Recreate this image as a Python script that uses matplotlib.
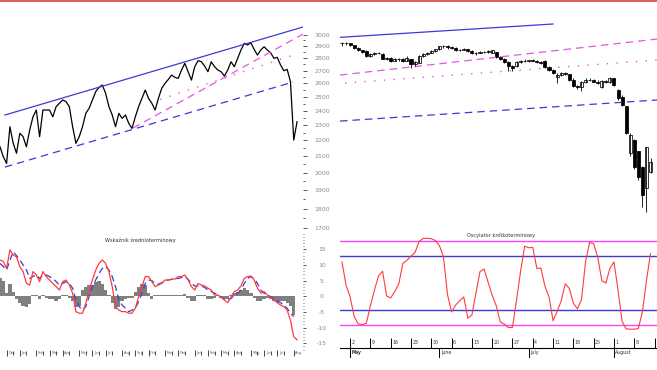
import matplotlib
matplotlib.use('Agg')
import matplotlib.pyplot as plt
import matplotlib.transforms as mtransforms
from matplotlib.patches import Rectangle
from matplotlib.ticker import NullFormatter
import pandas as pd

# ---------------- DATA ----------------
# Left chart (weekly closes)
left_close = [2159, 2097, 2056, 2290, 2181, 2118, 2246, 2224, 2159, 2268,
              2358, 2405, 2224, 2405, 2405, 2405, 2358, 2429, 2453, 2477,
              2465, 2429, 2290, 2181, 2224, 2290, 2382, 2417, 2477, 2538,
              2570, 2588, 2526, 2429, 2370, 2290, 2382, 2347, 2370, 2313,
              2279, 2358, 2429, 2489, 2550, 2489, 2453, 2405, 2489, 2563,
              2601, 2631, 2665, 2647, 2639, 2705, 2758, 2691, 2626, 2731,
              2780, 2771, 2737, 2691, 2771, 2731, 2705, 2691, 2657, 2705,
              2771, 2731, 2799, 2868, 2925, 2911, 2930, 2874, 2826, 2868,
              2896, 2868, 2845, 2799, 2807, 2745, 2699, 2710, 2613, 2202, 2324]

# Medium-term indicator (left bottom)
mid_red = [11.6, 11.1, 8.9, 14.8, 13.2, 12.6, 9.5, 7.9, 4.1, 3.6,
           7.9, 6.8, 4.7, 7.9, 6.3, 5.2, 4.1, 3.1, 2.0, 4.7,
           5.2, 3.6, 1.0, -4.9, -5.4, -5.4, -2.2, 2.0, 5.2, 8.4,
           10.5, 11.6, 10.5, 7.9, 3.1, -3.3, -4.4, -4.9, -4.9, -5.4,
           -5.4, -3.8, -0.1, 3.1, 6.3, 6.3, 4.7, 3.1, 3.6, 4.1,
           5.2, 5.2, 5.5, 5.5, 6.3, 6.3, 6.8, 5.2, 3.1, 2.0,
           4.1, 3.6, 3.3, 2.6, 2.0, 0.4, 0.4, -0.3, -1.2, -2.0,
           -0.1, 1.5, 2.0, 3.3, 5.7, 6.3, 6.5, 5.2, 2.6, 1.0,
           1.5, 0.4, -0.3, -1.2, -2.0, -2.8, -3.3, -4.4, -7.6, -12.9, -13.9]
mid_blue = [10.5, 9.5, 8.4, 11.5, 14.2, 13.0, 11.6, 10.0, 8.4, 5.7,
            6.3, 6.8, 5.7, 6.8, 6.8, 6.3, 5.7, 4.7, 3.6, 4.1,
            4.7, 4.1, 2.6, -1.2, -3.3, -4.4, -3.3, -0.1, 3.1, 5.2,
            7.3, 8.9, 9.5, 8.4, 6.3, 3.1, -1.2, -2.8, -3.8, -4.9,
            -4.4, -3.8, -1.7, 1.0, 4.1, 5.2, 5.0, 4.1, 3.9, 4.3,
            5.0, 5.2, 5.4, 5.6, 5.7, 6.0, 6.3, 5.4, 4.1, 3.3,
            3.3, 3.3, 2.8, 2.0, 1.5, 1.0, 0.4, -0.3, -1.0, -1.2,
            -0.7, 0.4, 1.0, 2.0, 4.1, 5.7, 6.3, 5.7, 4.1, 2.0,
            1.0, 0.4, -0.1, -0.7, -1.4, -2.0, -2.8, -3.8, -5.4, -6.5]
mid_hist = [6, 5, 1, 4, 1.5, -1, -2, -3, -3.5, -2.5,
            0.5, 0.5, -1, 0.5, -0.5, -1, -1, -1.5, -1, 0.5,
            0.5, -0.5, -1.5, -3.5, -3, 2, 3, 3.5, 3.5, 4.5,
            5, 4, 2, 0.5, -2, -4, -3.5, -1.5, -1, -0.5,
            -0.5, 1.5, 3, 4, 3.5, 1, -1, 0.5, 0.5, 0.5,
            0.5, 0.5, 0.5, 0.5, 0.5, 0.5, 0.8, -0.5, -1.5, -1.5,
            0.5, 0.5, 0.5, -1, -1, -0.5, 0.5, -0.5, -1, -1,
            0.5, 1, 1.5, 2, 2.5, 2, 1, -0.5, -1.5, -1.5,
            -1, -0.5, -1, -1.5, -2, -1.5, -1.5, -2, -3, -6]

# Left channel lines: (x0, y0, x1, y1)
left_top_line = (1.5, 2370, 91.8, 3069)
left_low_line = (1.5, 2034, 88.8, 2611)
left_mag_dash = (40.3, 2281, 91.8, 3006)
left_mag_dot = (48.5, 2481, 88.8, 2826)

price_ticks = [3000, 2900, 2800, 2700, 2600, 2500, 2400, 2300, 2200, 2100,
               2000, 1900, 1800, 1700]
price_minor = [2950, 2850, 2750, 2650, 2550, 2450, 2350, 2250, 2150, 2050,
               1950, 1850, 1750]
ind_ticks = [15, 10, 5, 0, -5, -10, -15]

# Right chart: daily candles from 2011-04-28 to 2011-08-12
c_open = [2932, 2930, 2925, 2912, 2885, 2865, 2860, 2815, 2838, 2842,
          2835, 2795, 2805, 2780, 2795, 2790, 2778, 2790, 2750, 2762,
          2818, 2832, 2843, 2860, 2876, 2900, 2905, 2890, 2885, 2868,
          2872, 2878, 2860, 2840, 2845, 2852, 2848, 2845, 2850, 2810,
          2795, 2770, 2740, 2735, 2770, 2780, 2775, 2782, 2778, 2770,
          2780, 2730, 2705, 2650, 2665, 2685, 2670, 2630, 2580, 2575,
          2610, 2630, 2625, 2615, 2570, 2620, 2610, 2640, 2550, 2500,
          2430, 2120, 2200, 2130, 2035, 1913, 2005]
c_high = [2936, 2934, 2928, 2915, 2890, 2870, 2868, 2845, 2850, 2850,
          2840, 2810, 2810, 2800, 2805, 2800, 2815, 2795, 2775, 2825,
          2840, 2848, 2865, 2880, 2905, 2915, 2910, 2900, 2890, 2880,
          2885, 2880, 2865, 2850, 2860, 2858, 2865, 2870, 2855, 2815,
          2800, 2775, 2745, 2775, 2785, 2790, 2785, 2790, 2785, 2775,
          2785, 2735, 2710, 2680, 2690, 2690, 2675, 2640, 2590, 2620,
          2640, 2640, 2635, 2625, 2630, 2630, 2650, 2645, 2555, 2510,
          2435, 2250, 2210, 2135, 2040, 2160, 2090]
c_low = [2905, 2910, 2900, 2880, 2860, 2840, 2810, 2810, 2830, 2835,
         2790, 2785, 2770, 2775, 2780, 2770, 2775, 2720, 2740, 2758,
         2812, 2825, 2840, 2855, 2870, 2885, 2880, 2875, 2860, 2860,
         2865, 2855, 2835, 2830, 2840, 2840, 2845, 2840, 2805, 2785,
         2760, 2700, 2700, 2730, 2765, 2770, 2770, 2775, 2765, 2755,
         2720, 2700, 2670, 2600, 2660, 2665, 2620, 2570, 2560, 2545,
         2600, 2620, 2610, 2595, 2565, 2600, 2600, 2580, 2480, 2430,
         2240, 2100, 2020, 1960, 1810, 1785, 2000]
c_close = [2930, 2925, 2915, 2885, 2865, 2850, 2815, 2838, 2842, 2845,
           2795, 2805, 2780, 2795, 2790, 2778, 2805, 2750, 2770, 2818,
           2832, 2843, 2860, 2876, 2900, 2905, 2890, 2885, 2868, 2872,
           2878, 2860, 2840, 2845, 2852, 2848, 2860, 2865, 2810, 2795,
           2770, 2740, 2720, 2770, 2780, 2775, 2782, 2778, 2770, 2762,
           2730, 2705, 2680, 2665, 2685, 2670, 2630, 2580, 2575, 2610,
           2630, 2625, 2615, 2605, 2620, 2610, 2640, 2590, 2490, 2440,
           2250, 2235, 2035, 1976, 1874, 2156, 2065]

# Short-term oscillator (right bottom)
osc = [11.0, 3.5, -0.1, -6.5, -8.8, -9.0, -8.6, -3.0, 2.0, 6.5,
       8.0, 0.1, -0.5, 1.5, 4.0, 10.5, 11.5, 12.8, 14.0, 17.5,
       18.5, 18.5, 18.4, 17.8, 16.2, 12.6, 0.5, -5.0, -2.8, -1.4,
       -0.2, -7.0, -6.0, 1.0, 7.9, 8.7, 4.5, 0.3, -3.0, -8.2,
       -8.9, -10.0, -9.9, -1.2, 8.0, 16.0, 15.5, 15.6, 8.9, 9.0,
       3.2, -0.2, -7.8, -4.8, -1.5, 4.0, 2.5, -2.2, -4.0, -1.0,
       11.0, 17.2, 16.8, 12.5, 5.0, 4.2, 8.9, 11.0, 2.0, -8.0,
       -10.4, -10.5, -10.5, -10.3, -5.0, 5.0, 13.6]
osc_levels_mag = [17.6, -9.3]
osc_levels_blue = [12.9, -4.5]

# Right channel lines
right_top_line = (-0.49, 2977, 52.0, 3096)
right_mag_dash = (-0.49, 2665, 77.6, 2962)
right_mag_dot = (0.74, 2603, 77.6, 2785)
right_low_line = (-0.49, 2328, 77.6, 2477)

# ---------------- FIGURE ----------------
W, H = 657, 370
fig = plt.figure(figsize=(W / 100, H / 100), dpi=100)
plt.rcParams['font.family'] = ['DejaVu Sans']

BLUE = '#3b3bd6'
MAG = '#e455e4'
MAG2 = '#ff40ff'
RED = '#ff3b3b'
GRAY_TXT = '#8a8a8a'


def ax_px(x0, y0, x1, y1):
    return fig.add_axes([x0 / W, 1 - y1 / H, (x1 - x0) / W, (y1 - y0) / H])


def seg(ax, line, **kw):
    x0, y0, x1, y1 = line
    ax.plot([x0, x1], [y0, y1], **kw)


# red strip at the very top
fig.add_artist(Rectangle((0, 1 - 2 / H), 1, 2 / H, transform=fig.transFigure,
                         color='#d8605c', lw=0))

YLIM_P = (1681, 3151)

# ---- left top: price line with channel ----
ax_tl = ax_px(0, 18, 303, 232)
ax_tl.set_yscale('log')
ax_tl.set_ylim(*YLIM_P)
ax_tl.set_xlim(0, 91.8)
ax_tl.plot(range(len(left_close)), left_close, color='black', lw=0.9)
seg(ax_tl, left_top_line, color=BLUE, lw=0.9)
seg(ax_tl, left_low_line, color=BLUE, lw=0.9, dashes=(6, 4))
seg(ax_tl, left_mag_dash, color=MAG, lw=0.9, dashes=(6, 4))
seg(ax_tl, left_mag_dot, color=MAG, lw=1.0, dashes=(1, 6))
for s in ax_tl.spines.values():
    s.set_visible(False)
ax_tl.set_xticks([])
ax_tl.yaxis.tick_right()
ax_tl.set_yticks(price_ticks, [str(t) for t in price_ticks])
ax_tl.set_yticks(price_minor, minor=True)
ax_tl.yaxis.set_minor_formatter(NullFormatter())
ax_tl.tick_params(axis='y', which='major', length=3, width=0.7, color='#555555',
                  labelsize=4.5, labelcolor=GRAY_TXT, pad=10.8)
ax_tl.tick_params(axis='y', which='minor', length=1.2, width=0.7, color='#555555')
for lb in ax_tl.get_yticklabels():
    lb.set_horizontalalignment('center')

# ---- left bottom: medium-term indicator ----
ax_bl = ax_px(0, 232, 303, 353)
ax_bl.set_xlim(0, 91.8)
ax_bl.set_ylim((296.3 - 353) / 3.133, (296.3 - 232) / 3.133)
ax_bl.bar(range(len(mid_hist)), mid_hist, width=1.0, color='#7f7f7f', lw=0)
ax_bl.plot(range(len(mid_blue)), mid_blue, color=BLUE, lw=0.9, dashes=(5, 3))
ax_bl.plot(range(len(mid_red)), mid_red, color=RED, lw=0.9)
for s in ax_bl.spines.values():
    s.set_visible(False)
ax_bl.yaxis.tick_right()
ax_bl.set_yticks(ind_ticks, [str(t) for t in ind_ticks])
ax_bl.set_yticks(list(range(-17, 21)), minor=True)
ax_bl.yaxis.set_minor_formatter(NullFormatter())
ax_bl.tick_params(axis='y', which='major', length=2, width=0.7, color='#555555',
                  labelsize=4.5, labelcolor=GRAY_TXT, pad=11.5)
ax_bl.tick_params(axis='y', which='minor', length=1.0, width=0.6, color='#555555')
for lb in ax_bl.get_yticklabels():
    lb.set_horizontalalignment('center')
ax_bl.text(42.4, 18.0, 'Wskaźnik średnioterminowy', fontsize=3.6, ha='center',
           va='center', color='#333333')
# weekly dates for left x axis: ticks at month starts and mid-months
left_dates = pd.date_range(end='2011-08-12', periods=len(left_close), freq='W-FRI')
month_idx = [i for i in range(1, len(left_dates))
             if left_dates[i].month != left_dates[i - 1].month]
mid_idx = [i for i in range(1, len(left_dates))
           if left_dates[i].day >= 15 and left_dates[i - 1].day < 15]
ax_bl.set_xticks(month_idx)
ax_bl.set_xticklabels([])
ax_bl.set_xticks(mid_idx, minor=True)
ax_bl.tick_params(axis='x', which='major', direction='inout', length=5, width=0.7,
                  color='#444444')
ax_bl.tick_params(axis='x', which='minor', direction='inout', length=3.5, width=0.7,
                  color='#444444')
trb = mtransforms.blended_transform_factory(ax_bl.transData, ax_bl.transAxes)
for i in month_idx:
    ax_bl.text(i + 0.5, 0.0, left_dates[i].strftime('%b'), fontsize=2.6,
               color='#666666', transform=trb, va='center', ha='left')

# ---- right top: candlesticks ----
ax_tr = ax_px(340, 18, 657, 232)
ax_tr.set_yscale('log')
ax_tr.set_ylim(*YLIM_P)
ax_tr.set_xlim(-0.49, 77.6)
seg(ax_tr, right_top_line, color=BLUE, lw=0.9)
seg(ax_tr, right_mag_dash, color=MAG, lw=0.9, dashes=(6, 4))
seg(ax_tr, right_mag_dot, color=MAG, lw=1.0, dashes=(1, 6))
seg(ax_tr, right_low_line, color=BLUE, lw=0.9, dashes=(6, 4))
xs = list(range(len(c_close)))
ax_tr.vlines(xs, c_low, c_high, color='black', lw=0.6)
for i in xs:
    o, c = c_open[i], c_close[i]
    up = c >= o
    ax_tr.bar(i, max(abs(c - o), 2), bottom=min(o, c), width=0.75,
              color='white' if up else 'black', edgecolor='black', lw=0.55)
ax_tr.axis('off')

# ---- right bottom: oscillator ----
ax_br = ax_px(340, 232, 657, 348.3)
ax_br.set_xlim(-0.49, 77.6)
ax_br.set_ylim((296.3 - 348.3) / 3.133, (296.3 - 232) / 3.133)
for v in osc_levels_mag:
    ax_br.axhline(v, color=MAG2, lw=1.0)
for v in osc_levels_blue:
    ax_br.axhline(v, color=BLUE, lw=1.0)
ax_br.plot(range(len(osc)), osc, color=RED, lw=0.8)
ax_br.text(39.2, 19.6, 'Oscylator krótkoterminowy', fontsize=3.6, ha='center',
           va='center', color='#333333')
for k in ['top', 'left', 'right']:
    ax_br.spines[k].set_visible(False)
ax_br.spines['bottom'].set_linewidth(0.8)
ax_br.set_yticks([])
right_dates = pd.bdate_range('2011-04-28', '2011-08-15')
week_idx = [i for i, d in enumerate(right_dates) if d.weekday() == 0]
ax_br.set_xticks(week_idx)
ax_br.set_xticklabels([])
ax_br.tick_params(axis='x', direction='in', length=7.5, width=0.7, color='black')
trr = mtransforms.blended_transform_factory(ax_br.transData, ax_br.transAxes)
for i in week_idx:
    t = ax_br.text(i + 0.35, 0.05, str(right_dates[i].day), fontsize=3.4,
                   color='#333333', transform=trr, va='center', ha='left')
    t.set_clip_on(True)
mon_idx = [i for i in range(len(right_dates))
           if i > 0 and right_dates[i].month != right_dates[i - 1].month]
mon_idx = [2] + mon_idx
for i in mon_idx:
    ax_br.plot([i, i], [0, -0.075], color='black', lw=0.7, transform=trr,
               clip_on=False)
    ax_br.text(i + 0.35, -0.04, right_dates[i].strftime('%B'), fontsize=3.4,
               color='#333333', transform=trr, va='center', ha='left')

fig.savefig('out.png', dpi=100)
